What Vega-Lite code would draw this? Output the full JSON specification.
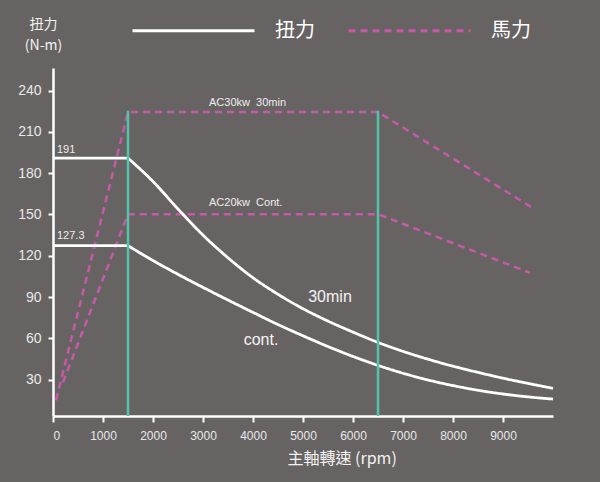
{
  "$schema": "https://vega.github.io/schema/vega-lite/v6.json",
  "width": 500,
  "height": 348,
  "autosize": {"type": "none"},
  "padding": {"left": 53, "top": 68, "right": 47, "bottom": 66},
  "background": "#676363",
  "config": {"view": {"stroke": null}, "font": "Liberation Sans"},
  "datasets": {
    "torque": [
      {"series": "30min-flat", "type": "扭力", "rpm": 0, "value": 191},
      {"series": "30min-flat", "type": "扭力", "rpm": 1500, "value": 191},
      {"series": "30min", "type": "扭力", "rpm": 1500, "value": 191},
      {"series": "30min", "type": "扭力", "rpm": 2000, "value": 174},
      {"series": "30min", "type": "扭力", "rpm": 2500, "value": 154},
      {"series": "30min", "type": "扭力", "rpm": 3000, "value": 135},
      {"series": "30min", "type": "扭力", "rpm": 3500, "value": 118.5},
      {"series": "30min", "type": "扭力", "rpm": 4000, "value": 104},
      {"series": "30min", "type": "扭力", "rpm": 4500, "value": 92},
      {"series": "30min", "type": "扭力", "rpm": 5000, "value": 81.5},
      {"series": "30min", "type": "扭力", "rpm": 5500, "value": 72.5},
      {"series": "30min", "type": "扭力", "rpm": 6000, "value": 64.5},
      {"series": "30min", "type": "扭力", "rpm": 6500, "value": 57},
      {"series": "30min", "type": "扭力", "rpm": 7000, "value": 50.5},
      {"series": "30min", "type": "扭力", "rpm": 7500, "value": 44.8},
      {"series": "30min", "type": "扭力", "rpm": 8000, "value": 39.7},
      {"series": "30min", "type": "扭力", "rpm": 8500, "value": 35.2},
      {"series": "30min", "type": "扭力", "rpm": 9000, "value": 31},
      {"series": "30min", "type": "扭力", "rpm": 9500, "value": 27.2},
      {"series": "30min", "type": "扭力", "rpm": 10000, "value": 23.6},
      {"series": "cont-flat", "type": "扭力", "rpm": 0, "value": 127.3},
      {"series": "cont-flat", "type": "扭力", "rpm": 1500, "value": 127.3},
      {"series": "cont", "type": "扭力", "rpm": 1500, "value": 127.3},
      {"series": "cont", "type": "扭力", "rpm": 2000, "value": 116.5},
      {"series": "cont", "type": "扭力", "rpm": 2500, "value": 106.5},
      {"series": "cont", "type": "扭力", "rpm": 3000, "value": 97},
      {"series": "cont", "type": "扭力", "rpm": 3500, "value": 87.8},
      {"series": "cont", "type": "扭力", "rpm": 4000, "value": 78.8},
      {"series": "cont", "type": "扭力", "rpm": 4500, "value": 70},
      {"series": "cont", "type": "扭力", "rpm": 5000, "value": 61.8},
      {"series": "cont", "type": "扭力", "rpm": 5500, "value": 54},
      {"series": "cont", "type": "扭力", "rpm": 6000, "value": 46.8},
      {"series": "cont", "type": "扭力", "rpm": 6500, "value": 40.3},
      {"series": "cont", "type": "扭力", "rpm": 7000, "value": 34.6},
      {"series": "cont", "type": "扭力", "rpm": 7500, "value": 29.7},
      {"series": "cont", "type": "扭力", "rpm": 8000, "value": 25.6},
      {"series": "cont", "type": "扭力", "rpm": 8500, "value": 22.2},
      {"series": "cont", "type": "扭力", "rpm": 9000, "value": 19.5},
      {"series": "cont", "type": "扭力", "rpm": 9500, "value": 17.4},
      {"series": "cont", "type": "扭力", "rpm": 10000, "value": 15.8}
    ],
    "power": [
      {"series": "AC30kw", "type": "馬力", "rpm": 60, "value": 15},
      {"series": "AC30kw", "type": "馬力", "rpm": 1500, "value": 224.5},
      {"series": "AC30kw", "type": "馬力", "rpm": 6500, "value": 224.5},
      {"series": "AC30kw", "type": "馬力", "rpm": 9560, "value": 155.5},
      {"series": "AC20kw", "type": "馬力", "rpm": 200, "value": 28},
      {"series": "AC20kw", "type": "馬力", "rpm": 1500, "value": 150.2},
      {"series": "AC20kw", "type": "馬力", "rpm": 6500, "value": 150.2},
      {"series": "AC20kw", "type": "馬力", "rpm": 9540, "value": 107.6}
    ],
    "rules": [
      {"rpm": 1500, "low": 3.5, "high": 225.5},
      {"rpm": 6500, "low": 3.5, "high": 225.5}
    ],
    "smallLabels": [
      {"text": "191", "rpm": 80, "value": 197},
      {"text": "127.3", "rpm": 80, "value": 134.3},
      {"text": "AC30kw\u00a0\u00a030min", "rpm": 3120, "value": 231.3},
      {"text": "AC20kw\u00a0\u00a0Cont.", "rpm": 3120, "value": 158.1}
    ],
    "bigLabels": [
      {"text": "30min", "rpm": 5540, "value": 90},
      {"text": "cont.", "rpm": 4160, "value": 58.7}
    ]
  },
  "layer": [
    {
      "data": {"name": "power"},
      "mark": {"type": "line", "strokeWidth": 2.5, "interpolate": "linear"},
      "encoding": {
        "x": {
          "field": "rpm", "type": "quantitative",
          "scale": {"domain": [0, 10000], "nice": false},
          "axis": {
            "values": [0, 1000, 2000, 3000, 4000, 5000, 6000, 7000, 8000, 9000],
            "format": "d",
            "grid": false,
            "domainColor": "#ffffff", "domainWidth": 2.5,
            "tickColor": "#ffffff", "tickWidth": 2, "tickSize": 6,
            "labelColor": "#e8e8e8", "labelFontSize": 12, "labelPadding": 8,
            "labelFont": "Liberation Sans",
            "title": "主軸轉速 (rpm)",
            "titleFont": "Noto Sans CJK TC", "titleFontSize": 16, "titleFontWeight": "normal",
            "titleColor": "#f2f2f2",
            "titleAlign": "left", "titleX": 234, "titleY": 42, "titleBaseline": "middle"
          }
        },
        "y": {
          "field": "value", "type": "quantitative",
          "scale": {"domain": [3.5, 256.5], "nice": false, "zero": false},
          "axis": {
            "values": [30, 60, 90, 120, 150, 180, 210, 240],
            "format": "d",
            "grid": false,
            "domainColor": "#ffffff", "domainWidth": 2.5,
            "tickColor": "#ffffff", "tickWidth": 2, "tickSize": 5,
            "labelColor": "#e8e8e8", "labelFontSize": 14, "labelPadding": 7,
            "labelFont": "Liberation Sans",
            "title": ["扭力", "(N-m)"],
            "titleFont": "Noto Sans CJK TC", "titleFontSize": 14, "titleFontWeight": "normal",
            "titleColor": "#f2f2f2", "titleAngle": 0, "titleAlign": "center",
            "titleBaseline": "top", "titleX": -10, "titleY": -51, "titleLineHeight": 21
          }
        },
        "detail": {"field": "series"},
        "color": {
          "field": "type", "type": "nominal",
          "scale": {"domain": ["扭力", "馬力"], "range": ["#ffffff", "#c65aa9"]},
          "legend": {
            "orient": "none", "direction": "horizontal", "title": null,
            "legendX": 78, "legendY": -100,
            "symbolType": "stroke", "symbolSize": 14884, "symbolStrokeWidth": 3,
            "labelFont": "Noto Sans CJK TC", "labelFontSize": 20, "labelColor": "#ffffff",
            "labelOffset": 19, "columnPadding": 27, "padding": 0
          }
        },
        "strokeDash": {
          "field": "type", "type": "nominal",
          "scale": {"domain": ["扭力", "馬力"], "range": [[1, 0], [7, 5]]},
          "legend": {
            "orient": "none", "direction": "horizontal", "title": null,
            "legendX": 78, "legendY": -100,
            "symbolType": "stroke", "symbolSize": 14884, "symbolStrokeWidth": 3,
            "labelFont": "Noto Sans CJK TC", "labelFontSize": 20, "labelColor": "#ffffff",
            "labelOffset": 19, "columnPadding": 27, "padding": 0
          }
        }
      }
    },
    {
      "data": {"name": "torque"},
      "mark": {"type": "line", "strokeWidth": 2.8, "interpolate": "monotone"},
      "encoding": {
        "x": {"field": "rpm", "type": "quantitative"},
        "y": {"field": "value", "type": "quantitative"},
        "detail": {"field": "series"},
        "color": {"field": "type", "type": "nominal"},
        "strokeDash": {"field": "type", "type": "nominal"}
      }
    },
    {
      "data": {"name": "rules"},
      "mark": {"type": "rule", "color": "#4fc6a8", "strokeWidth": 2.5},
      "encoding": {
        "x": {"field": "rpm", "type": "quantitative"},
        "y": {"field": "low", "type": "quantitative"},
        "y2": {"field": "high"}
      }
    },
    {
      "data": {"name": "smallLabels"},
      "mark": {"type": "text", "align": "left", "baseline": "middle", "fontSize": 11, "color": "#eeeeee", "font": "Liberation Sans"},
      "encoding": {
        "x": {"field": "rpm", "type": "quantitative"},
        "y": {"field": "value", "type": "quantitative"},
        "text": {"field": "text"}
      }
    },
    {
      "data": {"name": "bigLabels"},
      "mark": {"type": "text", "align": "center", "baseline": "middle", "fontSize": 16, "color": "#f4f4f4", "font": "Liberation Sans"},
      "encoding": {
        "x": {"field": "rpm", "type": "quantitative"},
        "y": {"field": "value", "type": "quantitative"},
        "text": {"field": "text"}
      }
    }
  ]
}
